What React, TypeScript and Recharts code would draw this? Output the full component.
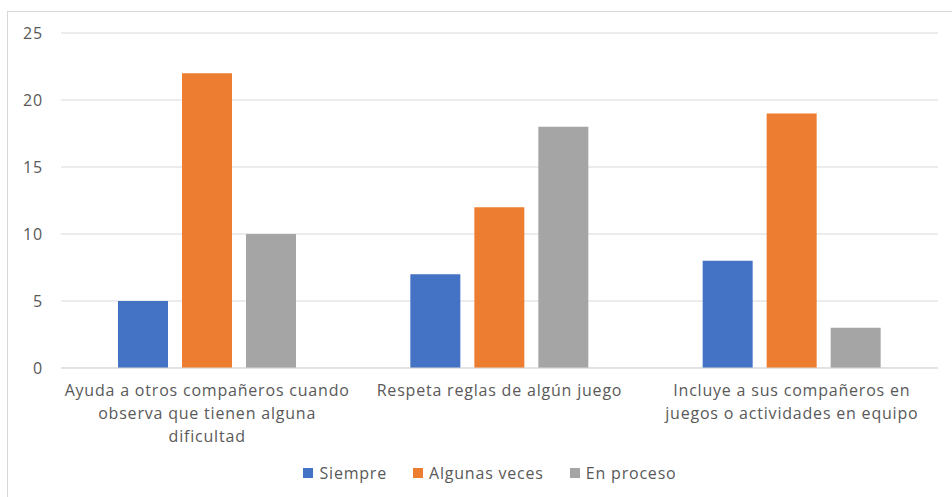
import React from "react";
import { Bar, BarChart, CartesianGrid, Legend, XAxis, YAxis } from "recharts";

const categories = [
	"Ayuda a otros compañeros cuando\nobserva que tienen alguna\ndificultad",
	"Respeta reglas de algún juego",
	"Incluye a sus compañeros en\njuegos o actividades en equipo",
];
const siempre = [5, 7, 8];
const algunasVeces = [22, 12, 19];
const enProceso = [10, 18, 3];
const yTicks = [0, 5, 10, 15, 20, 25];

const series = [
	{ key: "siempre", name: "Siempre", color: "#4472C4" },
	{ key: "algunasVeces", name: "Algunas veces", color: "#ED7D31" },
	{ key: "enProceso", name: "En proceso", color: "#A5A5A5" },
];

const data = categories.map((label, i) => ({
	label,
	siempre: siempre[i],
	algunasVeces: algunasVeces[i],
	enProceso: enProceso[i],
}));

const FONT = "'Open Sans', 'DejaVu Sans', sans-serif";
const TEXT = "#595959";
const SPACING = 0.8;

// etiquetas de categoría en varias líneas
const CategoryTick = ({ x, y, payload }: any) => {
	const lines = String(payload.value).split("\n");
	return (
		<text
			x={x}
			y={y}
			textAnchor="middle"
			fill={TEXT}
			fontSize={16}
			fontFamily={FONT}
			letterSpacing={SPACING}
		>
			{lines.map((line, i) => (
				<tspan key={line} x={x} dy={i === 0 ? 20 : 23}>
					{line}
				</tspan>
			))}
		</text>
	);
};

const LegendContent = () => (
	<div
		style={{
			display: "flex",
			justifyContent: "center",
			gap: 26,
			fontFamily: FONT,
			fontSize: 16,
			letterSpacing: SPACING,
			color: TEXT,
		}}
	>
		{series.map((s) => (
			<div key={s.key} style={{ display: "flex", alignItems: "center" }}>
				<span
					style={{
						display: "inline-block",
						width: 10,
						height: 10,
						background: s.color,
						marginRight: 6,
					}}
				/>
				{s.name}
			</div>
		))}
	</div>
);

const App: React.FC = () => {
	return (
		<div
			style={{
				position: "fixed",
				left: 0,
				top: 0,
				width: 952,
				height: 497,
				background: "#fff",
				overflow: "hidden",
			}}
		>
			<div
				style={{
					position: "absolute",
					left: 7,
					top: 11,
					width: 960,
					height: 500,
					border: "1px solid #d9d9d9",
				}}
			/>
			<BarChart
				width={952}
				height={497}
				data={data}
				margin={{ top: 33, right: 14, left: 0, bottom: 0 }}
				barCategoryGap={57}
				barGap={14}
				style={{ position: "absolute", left: 0, top: 0 }}
			>
				<CartesianGrid vertical={false} stroke="#d9d9d9" />
				<XAxis
					dataKey="label"
					axisLine={{ stroke: "#d9d9d9" }}
					tickLine={false}
					tick={<CategoryTick />}
					interval={0}
					height={107}
				/>
				<YAxis
					width={61}
					domain={[0, 25]}
					ticks={yTicks}
					axisLine={false}
					tickLine={false}
					tick={{
						fill: TEXT,
						fontSize: 16,
						fontFamily: FONT,
						letterSpacing: SPACING,
					}}
					tickMargin={12}
				/>
				<Legend
					content={<LegendContent />}
					wrapperStyle={{ top: 462, left: 14, width: 952 }}
				/>
				{series.map((s) => (
					<Bar
						key={s.key}
						dataKey={s.key}
						name={s.name}
						fill={s.color}
						isAnimationActive={false}
					/>
				))}
			</BarChart>
		</div>
	);
};

export default App;
